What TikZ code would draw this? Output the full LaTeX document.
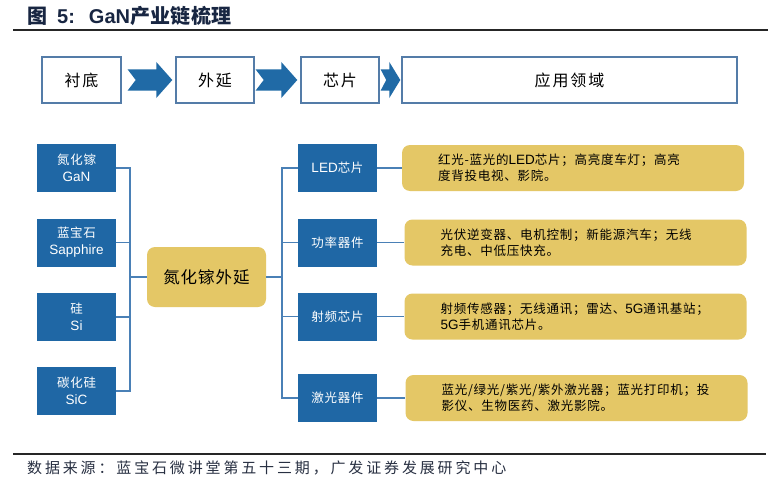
\documentclass[tikz,border=0pt]{standalone}
\usepackage{fontspec}
\usetikzlibrary{calc}
\setmainfont{Liberation Sans}
\newfontfamily\latin{Liberation Sans}
\newfontfamily\cjkbox{Noto Sans CJK SC}[LetterSpace=6]
\newfontfamily\cjkhead{Noto Sans CJK SC}[LetterSpace=12]
\newfontfamily\cjknote{Noto Sans CJK SC}[LetterSpace=19]
\newfontfamily\cjktitle{Noto Sans CJK SC}[LetterSpace=2]
\definecolor{boxblue}{RGB}{31,103,165}
\definecolor{arrowblue}{RGB}{32,106,166}
\definecolor{linkblue}{RGB}{74,128,182}
\definecolor{stageline}{RGB}{84,124,168}
\definecolor{gold}{RGB}{228,199,102}
\definecolor{titlenavy}{RGB}{24,38,66}
\definecolor{notegray}{RGB}{40,48,66}
% block arrow between two stage boxes: tail, tip, head length
\newcommand{\chainarrow}[3]{%
  \fill[arrowblue] let \p1=#1, \p2=#2 in
    (\x1,\y1+10.5pt) -- (\x2-#3pt,\y1+10.5pt) -- (\x2-#3pt,\y1+18pt) -- (\x2,\y1)
    -- (\x2-#3pt,\y1-18pt) -- (\x2-#3pt,\y1-10.5pt) -- (\x1,\y1-10.5pt)
    -- (\x1+#3pt/2,\y1) -- cycle;}

\begin{document}
\begin{tikzpicture}[x=1pt, y=-1pt,
  stagebox/.style={draw=stageline, line width=1.4pt, fill=white, minimum height=46pt,
    inner sep=0pt, font=\fontsize{16}{18}\selectfont\cjkhead},
  srcbox/.style={fill=boxblue, text=white, minimum width=79pt, minimum height=48pt,
    inner sep=0pt, align=center, font=\fontsize{12.5}{17}\selectfont\cjkbox},
  hubbox/.style={fill=gold, rounded corners=8pt, minimum width=119pt, minimum height=60pt,
    inner sep=0pt, font=\fontsize{16.5}{18}\selectfont\cjkbox},
  descbox/.style={fill=gold, rounded corners=8pt, minimum width=342pt, minimum height=46pt,
    text width=270pt, inner xsep=36pt, inner ysep=0pt, align=left,
    font=\fontsize{12.5}{16}\selectfont\cjkbox},
  link/.style={draw=linkblue, line width=1.4pt}]
  \useasboundingbox (0,0) rectangle (784,495);
  \fill[white] (0,0) rectangle (784,495);

  % Title and rules
  \node[anchor=west, inner sep=0pt, text=titlenavy, font=\fontsize{20}{22}\selectfont\bfseries]
    (title) at (27,16) {\cjktitle 图\hspace{10pt}{\latin 5:}\hspace{14pt}{\latin GaN}产业链梳理};
  \draw[black!85, line width=1.2pt] (13,30) -- (768,30);
  \draw[black!85, line width=1.2pt] (13,454) -- (766,454);
  \node[anchor=west, inner sep=0pt, text=notegray, font=\fontsize{15}{17}\selectfont\cjknote]
    (source) at (27,468) {数据来源：蓝宝石微讲堂第五十三期，广发证券发展研究中心};

  % Top row: chain stages
  \node[stagebox, minimum width=79pt] (sub) at (81.5,80) {衬底};
  \node[stagebox, minimum width=78pt] (epi) at (215,80) {外延};
  \node[stagebox, minimum width=78pt] (chip) at (340,80) {芯片};
  \node[stagebox, minimum width=335pt] (app) at (569.5,80) {应用领域};
  \chainarrow{($(sub.east)+(6,0)$)}{($(epi.west)+(-3,0)$)}{16}
  \chainarrow{($(epi.east)+(1,0)$)}{($(chip.west)+(-3,0)$)}{16}
  \chainarrow{($(chip.east)+(1,0)$)}{($(app.west)+(-1,0)$)}{11}

  % Left: substrates
  \node[srcbox] (gan) at (76.5,168) {氮化镓\\{\latin\fontsize{13.5}{17}\selectfont GaN}};
  \node[srcbox] (sap) at (76.5,242.5) {蓝宝石\\{\latin\fontsize{13.5}{17}\selectfont Sapphire}};
  \node[srcbox] (si) at (76.5,317) {硅\\{\latin\fontsize{13.5}{17}\selectfont Si}};
  \node[srcbox] (sic) at (76.5,391) {碳化硅\\{\latin\fontsize{13.5}{17}\selectfont SiC}};

  % Middle: epitaxy
  \node[hubbox] (epix) at (206.5,277) {氮化镓外延};
  \coordinate (ljoin) at (130,277);
  \coordinate (rjoin) at (282,277);
  \draw[link] (gan.east) -| (ljoin);
  \draw[link] (sap.east) -| (ljoin);
  \draw[link] (si.east) -| (ljoin);
  \draw[link] (sic.east) -| (ljoin);
  \draw[link] (ljoin) -- (epix.west);
  \draw[link] (epix.east) -- (rjoin);

  % Right: devices and applications
  \node[srcbox] (led) at (337.5,168) {{\latin\fontsize{13.5}{17}\selectfont LED}芯片};
  \node[srcbox] (power) at (337.5,242.5) {功率器件};
  \node[srcbox] (rf) at (337.5,316.5) {射频芯片};
  \node[srcbox] (laser) at (337.5,398) {激光器件};
  \node[descbox] (ledtxt) at (573,168)
    {红光-蓝光的{\latin\fontsize{13.5}{16}\selectfont LED}芯片；高亮度车灯；高亮\\度背投电视、影院。};
  \node[descbox] (powertxt) at (575.5,242.5)
    {光伏逆变器、电机控制；新能源汽车；无线\\充电、中低压快充。};
  \node[descbox] (rftxt) at (575.5,316.5)
    {射频传感器；无线通讯；雷达、{\latin\fontsize{13.5}{16}\selectfont 5G}通讯基站；\\{\latin\fontsize{13.5}{16}\selectfont 5G}手机通讯芯片。};
  \node[descbox] (lasertxt) at (576.5,398)
    {蓝光/绿光/紫光/紫外激光器；蓝光打印机；投\\影仪、生物医药、激光影院。};
  \draw[link] (rjoin) |- (led.west);
  \draw[link] (rjoin) |- (power.west);
  \draw[link] (rjoin) |- (rf.west);
  \draw[link] (rjoin) |- (laser.west);
  \draw[link] (led.east) -- (ledtxt.west);
  \draw[link] (power.east) -- (powertxt.west);
  \draw[link] (rf.east) -- (rftxt.west);
  \draw[link] (laser.east) -- (lasertxt.west);
\end{tikzpicture}
\end{document}
